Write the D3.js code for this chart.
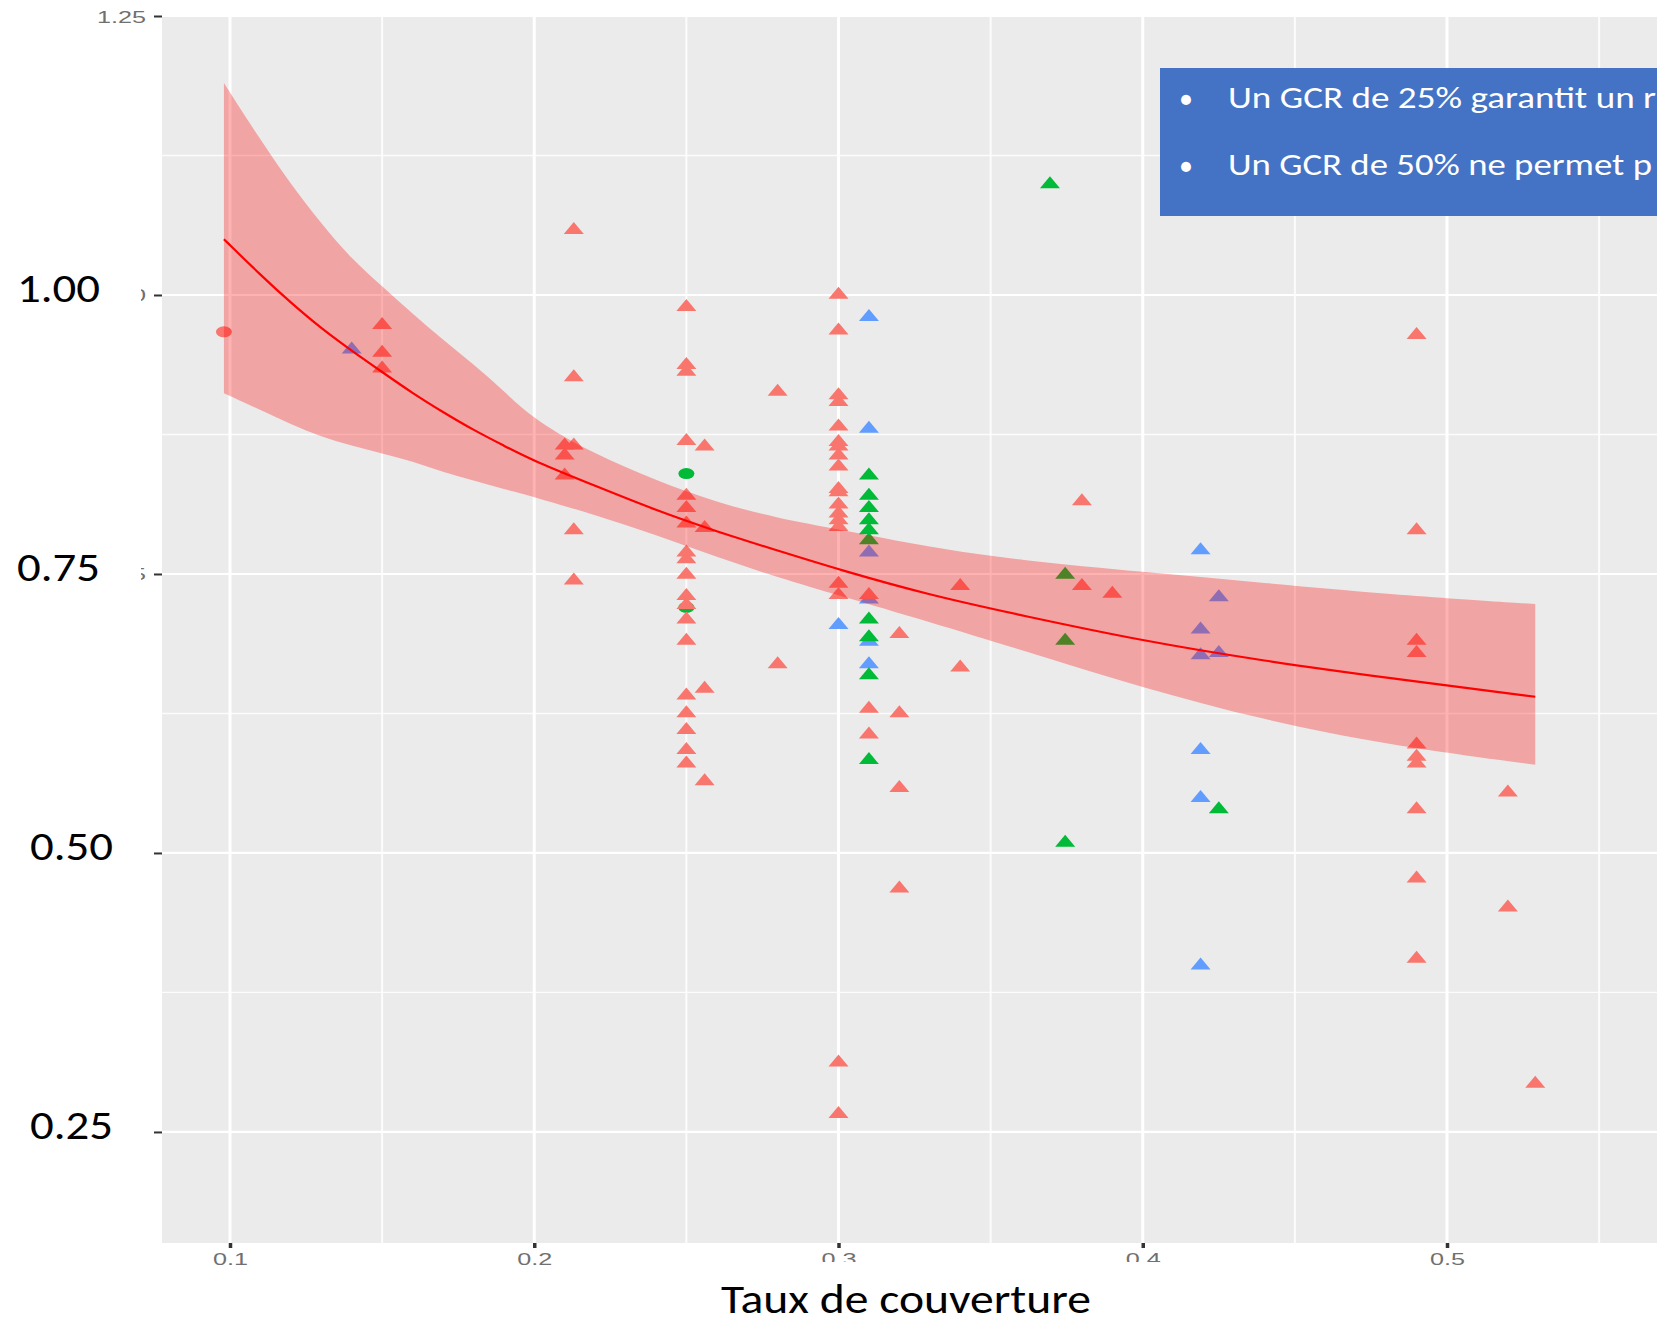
<!DOCTYPE html>
<html>
<head>
<meta charset="utf-8">
<title>Taux de couverture</title>
<script src="https://d3js.org/d3.v7.min.js"></script>
<style>
  body { margin: 0; background: #fff; }
  svg { display: block; }
</style>
</head>
<body>
<div id="chart"></div>
<script>
// ---- données ----
const xTicks = [0.1, 0.2, 0.3, 0.4, 0.5];
const xTickLabels = ["0.1", "0.2", "0.3", "0.4", "0.5"];
const xMinor = [0.15, 0.25, 0.35, 0.45, 0.55];
const yTicks = [0.25, 0.5, 0.75, 1.0, 1.25];
const yTickLabels = ["0.25", "0.50", "0.75", "1.00", "1.25"];
const yMinor = [0.375, 0.625, 0.875, 1.125];
const yBigLabels = ["1.00", "0.75", "0.50", "0.25"];
const xTitle = "Taux de couverture";
const boxLines = ["Un GCR de 25% garantit un r", "Un GCR de 50% ne permet p"];

// courbe ajustée et intervalle de confiance
const fitX = [0.098, 0.11, 0.12, 0.13, 0.14, 0.15, 0.16, 0.17, 0.18, 0.19, 0.20, 0.22, 0.24, 0.26, 0.28, 0.30, 0.33, 0.36, 0.40, 0.44, 0.48, 0.529];
const fitY = [1.050, 1.018, 0.993, 0.970, 0.950, 0.931, 0.912, 0.895, 0.879, 0.865, 0.851, 0.829, 0.807, 0.788, 0.771, 0.754, 0.731, 0.713, 0.690, 0.672, 0.657, 0.640];
const bandHigh = [1.190, 1.139, 1.099, 1.064, 1.032, 1.008, 0.983, 0.960, 0.938, 0.914, 0.888, 0.857, 0.834, 0.814, 0.800, 0.790, 0.774, 0.762, 0.752, 0.742, 0.732, 0.723];
const bandLow = [0.912, 0.897, 0.884, 0.873, 0.865, 0.858, 0.851, 0.841, 0.834, 0.826, 0.819, 0.803, 0.785, 0.765, 0.747, 0.731, 0.707, 0.682, 0.648, 0.619, 0.597, 0.579];

// points [x, y]
const blueTriangles = [
  [0.140, 0.953], [0.300, 0.706],
  [0.310, 0.982], [0.310, 0.882], [0.310, 0.771], [0.310, 0.729], [0.310, 0.691], [0.310, 0.671],
  [0.419, 0.773], [0.419, 0.702], [0.419, 0.679], [0.419, 0.594], [0.419, 0.551], [0.419, 0.401],
  [0.425, 0.731], [0.425, 0.681]
];
const greenTriangles = [
  [0.310, 0.840], [0.310, 0.822], [0.310, 0.811], [0.310, 0.800], [0.310, 0.791],
  [0.310, 0.782], [0.310, 0.711], [0.310, 0.695], [0.310, 0.661], [0.310, 0.585],
  [0.3695, 1.101], [0.3745, 0.751], [0.3745, 0.692], [0.3745, 0.511], [0.425, 0.541]
];
const greenCircles = [[0.250, 0.840], [0.250, 0.720]];
const redCircles = [[0.098, 0.967]];
const redTriangles = [
  [0.150, 0.975], [0.150, 0.950], [0.150, 0.936],
  [0.210, 0.867], [0.210, 0.858], [0.210, 0.840],
  [0.213, 1.060], [0.213, 0.928], [0.213, 0.867], [0.213, 0.791], [0.213, 0.746],
  [0.250, 0.991], [0.250, 0.939], [0.250, 0.933], [0.250, 0.871], [0.250, 0.822], [0.250, 0.811],
  [0.250, 0.797], [0.250, 0.771], [0.250, 0.765], [0.250, 0.751], [0.250, 0.732], [0.250, 0.724],
  [0.250, 0.711], [0.250, 0.692], [0.250, 0.643], [0.250, 0.627], [0.250, 0.612], [0.250, 0.594], [0.250, 0.582],
  [0.256, 0.866], [0.256, 0.793], [0.256, 0.649], [0.256, 0.566],
  [0.280, 0.915], [0.280, 0.671],
  [0.300, 1.002], [0.300, 0.970], [0.300, 0.912], [0.300, 0.906], [0.300, 0.884], [0.300, 0.870],
  [0.300, 0.866], [0.300, 0.858], [0.300, 0.848], [0.300, 0.828], [0.300, 0.825], [0.300, 0.814],
  [0.300, 0.806], [0.300, 0.800], [0.300, 0.794], [0.300, 0.743], [0.300, 0.733], [0.300, 0.314], [0.300, 0.268],
  [0.310, 0.733], [0.310, 0.631], [0.310, 0.608],
  [0.320, 0.698], [0.320, 0.627], [0.320, 0.560], [0.320, 0.470],
  [0.340, 0.741], [0.340, 0.668],
  [0.380, 0.817], [0.380, 0.741],
  [0.390, 0.734],
  [0.490, 0.966], [0.490, 0.791], [0.490, 0.692], [0.490, 0.681], [0.490, 0.599],
  [0.490, 0.588], [0.490, 0.582], [0.490, 0.541], [0.490, 0.479], [0.490, 0.407],
  [0.520, 0.556], [0.520, 0.453],
  [0.529, 0.295]
];

// ---- dessin ----
const width = 1657, height = 1324;
const panel = {left: 162, right: 1657, top: 15, bottom: 1243};

const svg = d3.select("#chart").append("svg")
  .attr("width", width)
  .attr("height", height);

const x = d3.scaleLinear().domain([0.07765, 0.56902]).range([panel.left, panel.right]);
const y = d3.scaleLinear().domain([0.1505, 1.2509]).range([panel.bottom, panel.top]);

// fond du panneau
svg.append("rect")
  .attr("x", panel.left).attr("y", panel.top)
  .attr("width", panel.right - panel.left).attr("height", panel.bottom - panel.top)
  .attr("fill", "#ebebeb");

// grilles
const grid = svg.append("g");
grid.selectAll(".ymin").data(yMinor).join("line")
  .attr("x1", panel.left).attr("x2", panel.right)
  .attr("y1", d => y(d)).attr("y2", d => y(d))
  .attr("stroke", "#fff").attr("stroke-opacity", 0.85).attr("stroke-width", 1.3);
grid.selectAll(".xmin").data(xMinor).join("line")
  .attr("x1", d => x(d)).attr("x2", d => x(d))
  .attr("y1", panel.top).attr("y2", panel.bottom)
  .attr("stroke", "#fff").attr("stroke-opacity", 0.85).attr("stroke-width", 2);
grid.selectAll(".ymaj").data(yTicks).join("line")
  .attr("x1", panel.left).attr("x2", panel.right)
  .attr("y1", d => y(d)).attr("y2", d => y(d))
  .attr("stroke", "#fff").attr("stroke-width", 2.2);
grid.selectAll(".xmaj").data(xTicks).join("line")
  .attr("x1", d => x(d)).attr("x2", d => x(d))
  .attr("y1", panel.top).attr("y2", panel.bottom)
  .attr("stroke", "#fff").attr("stroke-width", 3);

// triangle étiré (l'image d'origine est étirée horizontalement)
const triW = 20, triH = 12;
const triangle = () => {
  const p = d3.path();
  p.moveTo(-triW / 2, triH / 2);
  p.lineTo(triW / 2, triH / 2);
  p.lineTo(0, -triH / 2);
  p.closePath();
  return p.toString();
};

const drawTriangles = (data, color) => {
  svg.append("g").selectAll("path").data(data).join("path")
    .attr("d", triangle())
    .attr("transform", d => `translate(${x(d[0])},${y(d[1])})`)
    .attr("fill", color);
};
const drawCircles = (data, color) => {
  svg.append("g").selectAll("ellipse").data(data).join("ellipse")
    .attr("cx", d => x(d[0])).attr("cy", d => y(d[1]))
    .attr("rx", 8).attr("ry", 5.5)
    .attr("fill", color);
};

drawTriangles(blueTriangles, "#619cff");
drawTriangles(greenTriangles, "#00ba38");
drawCircles(greenCircles, "#00ba38");
drawTriangles(redTriangles, "#f8766d");
drawCircles(redCircles, "#f8766d");

// intervalle de confiance
const fit = fitX.map((v, i) => ({x: v, y: fitY[i], lo: bandLow[i], hi: bandHigh[i]}));
svg.append("path")
  .datum(fit)
  .attr("d", d3.area().x(d => x(d.x)).y0(d => y(d.lo)).y1(d => y(d.hi)).curve(d3.curveBasis))
  .attr("fill", "red")
  .attr("fill-opacity", 0.3);
svg.append("path")
  .datum(fit)
  .attr("d", d3.line().x(d => x(d.x)).y(d => y(d.y)).curve(d3.curveBasis))
  .attr("fill", "none")
  .attr("stroke", "red")
  .attr("stroke-width", 2.2);

// axes
const tickFont = "'Liberation Sans', Arial, sans-serif";
const xAxis = svg.append("g")
  .attr("transform", `translate(0,${panel.bottom})`)
  .call(d3.axisBottom(x).tickValues(xTicks).tickSize(5).tickFormat((d, i) => xTickLabels[i]));
xAxis.select(".domain").remove();
xAxis.selectAll(".tick line").attr("stroke", "#333").attr("stroke-width", 3.5);
xAxis.selectAll(".tick text")
  .attr("y", 22).attr("dy", null)
  .attr("font-family", tickFont).attr("font-size", 16)
  .attr("fill", "#707070")
  .attr("textLength", 35).attr("lengthAdjust", "spacingAndGlyphs");

const yAxis = svg.append("g")
  .attr("transform", `translate(${panel.left},0)`)
  .call(d3.axisLeft(y).tickValues(yTicks).tickSize(8).tickFormat((d, i) => yTickLabels[i]));
yAxis.select(".domain").remove();
yAxis.selectAll(".tick line").attr("stroke", "#333").attr("stroke-width", 2);
yAxis.selectAll(".tick text")
  .attr("x", -16).attr("y", 6).attr("dy", null)
  .attr("font-family", tickFont).attr("font-size", 16)
  .attr("fill", "#707070")
  .attr("textLength", 49).attr("lengthAdjust", "spacingAndGlyphs");
// les petites étiquettes 0.50 et 0.25 sont entièrement masquées par les grandes
yAxis.selectAll(".tick text").filter(d => d < 0.75).remove();

// grandes étiquettes collées par-dessus
const bigFont = "Carlito, Calibri, Lato, 'Open Sans', sans-serif";
const big = svg.append("g");
yBigLabels.forEach(lab => {
  const v = +lab;
  const high = v >= 0.75;
  big.append("rect")
    .attr("x", 0).attr("y", y(v) - 30)
    .attr("width", high ? 141 : 151).attr("height", 48)
    .attr("fill", "#fff");
  big.append("text")
    .attr("x", high ? 17 : 30).attr("y", y(v) + 7)
    .attr("font-family", bigFont).attr("font-size", 42)
    .attr("fill", "#000")
    .attr("textLength", 83).attr("lengthAdjust", "spacingAndGlyphs")
    .text(lab);
});

// titre de l'axe x
svg.append("rect")
  .attr("x", 700).attr("y", 1262).attr("width", 460).attr("height", height - 1262)
  .attr("fill", "#fff");
svg.append("text")
  .attr("x", 721).attr("y", 1313)
  .attr("font-family", bigFont).attr("font-size", 42)
  .attr("fill", "#000")
  .attr("textLength", 370).attr("lengthAdjust", "spacingAndGlyphs")
  .text(xTitle);

// encadré bleu
const box = svg.append("g");
box.append("rect")
  .attr("x", 1160).attr("y", 68).attr("width", width - 1160).attr("height", 148)
  .attr("fill", "#4472c4");
const boxLen = [428, 424];
boxLines.forEach((t, i) => {
  const base = 108 + i * 67;
  box.append("text")
    .attr("x", 1186).attr("y", base)
    .attr("text-anchor", "middle")
    .attr("font-family", bigFont).attr("font-size", 28)
    .attr("fill", "#fff")
    .text("•");
  box.append("text")
    .attr("x", 1228).attr("y", base)
    .attr("font-family", bigFont).attr("font-size", 30)
    .attr("fill", "#fff")
    .attr("textLength", boxLen[i]).attr("lengthAdjust", "spacingAndGlyphs")
    .text(t);
});
</script>
</body>
</html>
